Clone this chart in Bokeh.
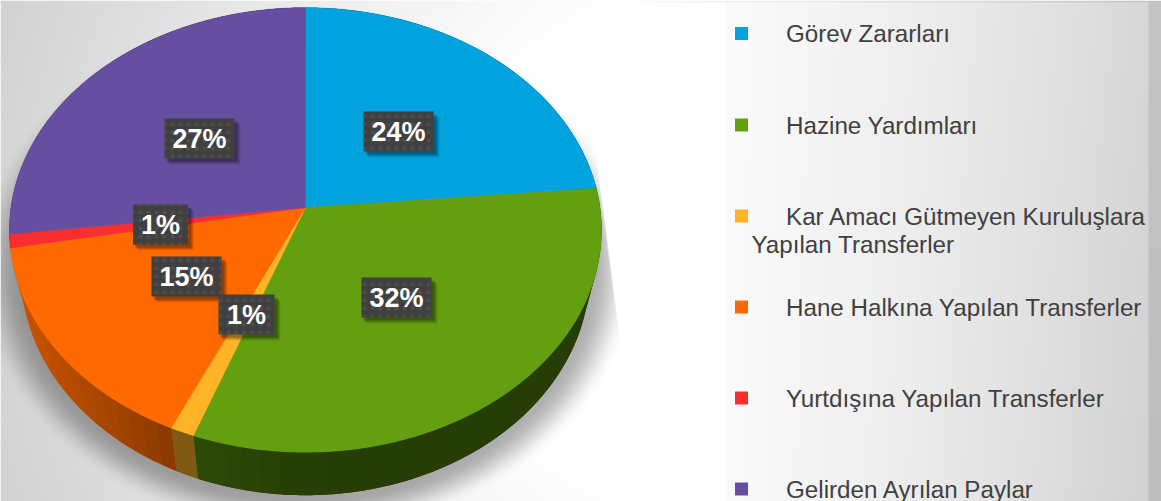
import numpy as np
from bokeh.plotting import figure
from bokeh.models import Range1d
from bokeh.core.properties import value
from bokeh.embed import file_html
from bokeh.resources import INLINE

# ---- data ----
categories = ["Görev Zararları", "Hazine Yardımları", "Kar Amacı Gütmeyen Kuruluşlara",
              "Hane Halkına Yapılan Transferler", "Yurtdışına Yapılan Transferler", "Gelirden Ayrılan Paylar"]
shares = [23.6, 32.0, 1.2, 15.3, 1.0, 26.9]
share_labels = ["24%", "32%", "1%", "15%", "1%", "27%"]
colors = ["#00A3DD", "#639F10", "#FFB327", "#FF6A00", "#F92F2F", "#664FA0"]

W, H = 1161, 501
def Y(py):
    return H - np.asarray(py, dtype=float)

# ---- pie geometry (perspective disc) ----
CX, CY = 305.0, 207.0
K, A, B = 0.101, 294.5, 220.0
DEPTH, WALL_SCALE = 43.0, 0.96

def rim(theta, scale=1.0, dy=0.0):
    u, v = np.sin(theta), np.cos(theta)
    w = 1 + K * v
    return CX + scale * A * u / w, CY - B * v / w + dy

def hex_rgb(c):
    return np.array([int(c[i:i + 2], 16) for i in (1, 3, 5)], dtype=float)

def to_hex(rgb):
    return "#%02x%02x%02x" % tuple(int(round(x)) for x in rgb)

def wall_shade(x):
    return np.interp(x, [10, 170, 195, 300, 600], [0.80, 0.54, 0.46, 0.39, 0.38])

# ---- background ----
yy, xx = np.mgrid[0:H, 0:W].astype(float) + 0.5
d = np.hypot(xx - 700, yy - 250)
bg = 255 - 42 * np.clip((d - 240) / 470, 0, 1.2) ** 1.1
# shadow of the disc
r = np.hypot((xx - 305) / 305, (yy - 270) / 243)
sd = (r - 1) * 270
t = np.clip((22 - sd) / 40, 0, 1)
sh = t * t * (3 - 2 * t) * 0.31
edge = 600 + (yy - 190) * 22 / 170
sh *= np.clip(edge - xx + 0.5, 0, 1)
bg = bg * (1 - sh)
# legend panel
px = np.clip((xx - 726) / 422, 0, 1)
panel = 250 - 34 * px ** 1.3 - 6 * px * (yy / 501)
mask = (xx >= 726) & (xx < 1148) & (yy >= 2)
bg = np.where(mask, panel, bg)
bg = np.where(xx >= 1148, 196 - 6 * (yy / 501), bg)
topband = (yy < 2) & (xx >= 640) & (xx < 1148)
bg = np.where(topband, 250 - 52 * ((xx - 640) / 508), bg)
g = np.clip(bg, 0, 255).astype(np.uint32)
img = (255 << 24) | (g << 16) | (g << 8) | g
img = img[::-1].copy()

p = figure(width=W, height=H, output_backend="svg", toolbar_location=None,
           x_range=Range1d(0, W), y_range=Range1d(0, H), min_border=0,
           styles={"position": "absolute", "left": "0px", "top": "0px"})
p.xaxis.visible = False
p.yaxis.visible = False
p.grid.visible = False
p.outline_line_color = None
p.background_fill_color = "white"

p.image_rgba(image=[img], x=0, y=0, dw=W, dh=H)

# ---- pie ----
frac = np.cumsum([0] + shares) / sum(shares) * 2 * np.pi

# solid wall under the shaded strips, so that no seams show
under_x, under_y, under_c = [], [], []
for i, c in enumerate(colors):
    th = np.linspace(frac[i], frac[i + 1], 120)
    xt, yt = rim(th)
    xb, yb = rim(th, WALL_SCALE, DEPTH)
    under_x.append(list(xt) + list(xb[::-1]))
    under_y.append(list(Y(np.r_[yt, yb[::-1]])))
    under_c.append(to_hex(hex_rgb(c) * wall_shade(xt.mean())))
p.patches(under_x, under_y, fill_color=under_c, line_color=None)

wall_x, wall_y, wall_c = [], [], []
for i, c in enumerate(colors):
    base = hex_rgb(c)
    steps = max(int((frac[i + 1] - frac[i]) / np.radians(3.0)), 1)
    th = np.linspace(frac[i], frac[i + 1], steps + 1)
    for a, b in zip(th[:-1], th[1:]):
        tt = np.linspace(a, b, 8)
        xt, yt = rim(tt)
        xb, yb = rim(tt, WALL_SCALE, DEPTH)
        wall_x.append(list(xt) + list(xb[::-1]))
        wall_y.append(list(Y(np.r_[yt, yb[::-1]])))
        wall_c.append(to_hex(base * wall_shade(xt.mean())))
p.patches(wall_x, wall_y, fill_color=wall_c, line_color=None)

face_x, face_y = [], []
for i in range(len(shares)):
    th = np.linspace(frac[i], frac[i + 1], 160)
    x, y = rim(th)
    face_x.append([CX] + list(x))
    face_y.append(list(Y(np.r_[CY, y])))
p.patches(face_x, face_y, fill_color=colors, line_color=colors, line_width=0.5)

# ---- value labels (layout: box centre, box size in pixels) ----
label_cx = [398, 396, 246, 186, 160, 199]
label_cy = [131, 297, 314, 276, 224, 138]
label_w = [70, 70, 56, 70, 55, 70]
label_h = 40
for off, alpha in ((6, 0.08), (5, 0.10), (4, 0.14), (3, 0.16)):
    p.quad(left=[x - w / 2 + off - 1 for x, w in zip(label_cx, label_w)],
           right=[x + w / 2 + off for x, w in zip(label_cx, label_w)],
           top=Y([y - label_h / 2 + off for y in label_cy]),
           bottom=Y([y + label_h / 2 + off for y in label_cy]),
           fill_color="black", fill_alpha=alpha, line_color=None)
p.quad(left=[x - w / 2 for x, w in zip(label_cx, label_w)],
       right=[x + w / 2 for x, w in zip(label_cx, label_w)],
       top=Y([y - label_h / 2 for y in label_cy]),
       bottom=Y([y + label_h / 2 for y in label_cy]),
       fill_color="#404040", line_color=None,
       hatch_pattern="dot", hatch_color="#4e4e4e", hatch_scale=8, hatch_weight=1)
p.text(x=label_cx, y=Y(label_cy), text=share_labels, text_color="white",
       text_font=value("Liberation Sans"), text_font_style="bold", text_font_size="27px",
       text_align="center", text_baseline="middle")

# ---- legend ----
leg_y = [33, 124.5, 215.5, 306.5, 397.5, 488.5]
p.quad(left=[734.5] * 6, right=[747.5] * 6, top=Y([y - 6.5 for y in leg_y]),
       bottom=Y([y + 6.5 for y in leg_y]), fill_color=colors, line_color=None)
p.text(x=[785.5] * 6, y=Y(leg_y), text=categories, text_color="#404040",
       text_font=value("Liberation Sans"), text_font_size="24.2px",
       text_align="left", text_baseline="middle")
p.text(x=[751], y=Y([243.5]), text=["Yapılan Transferler"], text_color="#404040",
       text_font=value("Liberation Sans"), text_font_size="24.2px",
       text_align="left", text_baseline="middle")

open("out.html", "w").write(file_html(p, INLINE))
